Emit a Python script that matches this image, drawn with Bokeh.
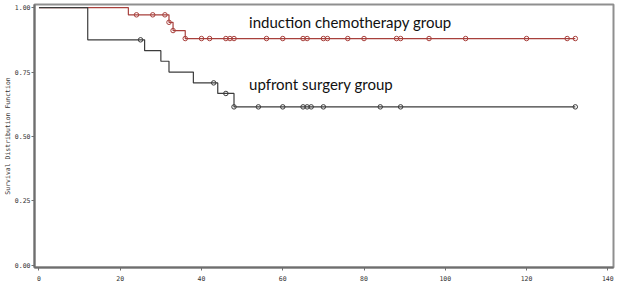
import numpy as np
from bokeh.plotting import figure
from bokeh.models import Range1d, Label, FixedTicker
from bokeh.embed import file_html
from bokeh.resources import INLINE

# Induction chemotherapy group (red)
ind_event_times = [0, 22, 32, 33, 36, 132]
ind_surv = [1.0, 0.972, 0.943, 0.911, 0.880, 0.880]
ind_censor = [24, 28, 31, 32, 33, 36, 40, 42, 46, 47, 48, 56, 60, 65, 66, 70, 71,
              76, 80, 88, 89, 96, 105, 120, 130, 132]

# Upfront surgery group (black)
up_event_times = [0, 12, 26, 30, 32, 38, 44, 48, 132]
up_surv = [1.0, 0.875, 0.833, 0.792, 0.750, 0.708, 0.667, 0.615, 0.615]
up_censor = [25, 43, 46, 48, 54, 60, 65, 66, 67, 70, 84, 89, 132]

x_ticks = [0, 20, 40, 60, 80, 100, 120, 140]
y_ticks = [0.0, 0.25, 0.5, 0.75, 1.0]

RED = "#a8403c"
BLK = "#3c3c3c"


def surv_at(times, surv, t):
    idx = np.searchsorted(times, t, side="right") - 1
    return [surv[i] for i in idx]


p = figure(width=617, height=286, output_backend="svg", toolbar_location=None,
           x_range=Range1d(-1.1, 141.4), y_range=Range1d(-0.008, 1.012),
           min_border_left=0, min_border_right=4, min_border_top=4, min_border_bottom=19)
p.grid.visible = False
p.outline_line_color = "#8f8f8f"
p.outline_line_width = 2
p.background_fill_color = "white"

p.step(ind_event_times, ind_surv, mode="after", line_color=RED, line_width=1.2)
p.step(up_event_times, up_surv, mode="after", line_color=BLK, line_width=1.2)

p.scatter(ind_censor, surv_at(ind_event_times, ind_surv, ind_censor), size=4.5,
          marker="circle", line_color=RED, fill_color=None, line_width=1)
p.scatter(up_censor, surv_at(up_event_times, up_surv, up_censor), size=4.5,
          marker="circle", line_color=BLK, fill_color=None, line_width=1)

for ax in (p.xaxis, p.yaxis):
    ax.axis_line_color = "#6e6e6e"
    ax.axis_line_width = 2
    ax.major_tick_line_color = "#6e6e6e"
    ax.major_tick_out = 3
    ax.major_tick_in = 0
    ax.minor_tick_line_color = None
    ax.major_label_text_font = "DejaVu Sans Mono"
    ax.major_label_text_font_size = "6.5px"
    ax.major_label_text_color = "#333333"

p.xaxis.major_label_standoff = 5
p.yaxis.major_label_standoff = 1
p.xaxis.ticker = FixedTicker(ticks=x_ticks)
p.yaxis.ticker = FixedTicker(ticks=y_ticks)
p.yaxis.major_label_overrides = {v: f"{v:.2f}" for v in y_ticks}
p.yaxis.axis_label = "Survival Distribution Function"
p.yaxis.axis_label_text_font = "DejaVu Sans Mono"
p.yaxis.axis_label_text_font_size = "6.5px"
p.yaxis.axis_label_text_font_style = "normal"
p.yaxis.axis_label_text_color = "#333333"
p.yaxis.axis_label_standoff = 0

p.add_layout(Label(x=51.7, y=0.944, text="induction chemotherapy group",
                   text_font="Lato", text_font_size="15px", text_color="#111111",
                   text_baseline="middle"))
p.add_layout(Label(x=51.7, y=0.703, text="upfront surgery group",
                   text_font="Lato", text_font_size="15px", text_color="#111111",
                   text_baseline="middle"))

open("out.html", "w").write(file_html(p, INLINE))
